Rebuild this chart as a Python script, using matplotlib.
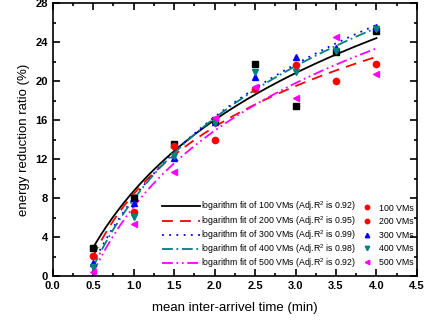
import numpy as np
import matplotlib
matplotlib.use("Agg")
import matplotlib.pyplot as plt
from matplotlib.lines import Line2D
from matplotlib.ticker import MultipleLocator

plt.rcParams['font.family'] = ['Liberation Sans', 'DejaVu Sans']
plt.rcParams['mathtext.fontset'] = 'custom'
plt.rcParams['mathtext.rm'] = 'Liberation Sans'

x = [0.5, 1.0, 1.5, 2.0, 2.5, 3.0, 3.5, 4.0]
vm100 = [2.9, 8.0, 13.5, 16.0, 21.8, 17.4, 23.0, 25.1]
vm200 = [2.1, 6.6, 13.3, 14.0, 19.2, 21.6, 20.0, 21.8]
vm300 = [1.3, 7.5, 12.1, 15.8, 20.4, 22.5, 23.4, 25.5]
vm400 = [0.9, 6.1, 12.3, 15.7, 20.9, 20.9, 23.1, 25.3]
vm500 = [0.4, 5.3, 10.7, 16.2, 19.4, 18.3, 24.5, 20.7]
series_names = ["100 VMs", "200 VMs", "300 VMs", "400 VMs", "500 VMs"]
r2 = ["0.92", "0.95", "0.99", "0.98", "0.92"]

# logarithm fit y = a + b*ln(x + c), coefficients
fit_a = [2.9, 7.17, 2.11, 3.34, 4.12]
fit_b = [14.3, 10.82, 15.84, 15.04, 13.29]
fit_c = [0.5, 0.12, 0.45, 0.35, 0.25]
fit_range = [0.5, 4.0]

colors = ["black", "#ff0000", "#0000ff", "#008080", "#ff00ff"]
markers = ["s", "o", "^", "v", "<"]
linestyles = ["-", (0, (6, 4)), (0, (1, 3)), (0, (6, 2, 1, 2)), (0, (6, 2, 1, 2, 1, 2))]

fig = plt.figure(figsize=(4.38, 3.23), dpi=100)
ax = fig.add_axes([0.12, 0.1455, 0.832, 0.845])

xs = np.linspace(fit_range[0], fit_range[1], 200)
line_handles = []
for a, b, c, col, ls, nm, r in zip(fit_a, fit_b, fit_c, colors, linestyles, series_names, r2):
    h, = ax.plot(xs, a + b * np.log(xs + c), color=col, linestyle=ls, lw=1.3)
    h.set_label("logarithm fit of %s (Adj.R$^2$ is %s)" % (nm, r))
    line_handles.append(h)

for ys, col, m in zip([vm100, vm200, vm300, vm400, vm500], colors, markers):
    ax.plot(x, ys, linestyle="none", marker=m, color=col, markersize=4.5)

# legend marker column (as shown in reference)
leg_colors = ["#ff0000", "#ff0000", "#0000ff", "#008080", "#ff00ff"]
leg_markers = ["o", "o", "^", "v", "<"]
marker_handles = [Line2D([], [], linestyle="none", marker=m, color=col, markersize=3.2, label=nm)
                  for m, col, nm in zip(leg_markers, leg_colors, series_names)]

leg1 = ax.legend(handles=line_handles, loc="lower left",
                 bbox_to_anchor=(0.3, 0.022), frameon=False, fontsize=6.3,
                 handlelength=4.3, handletextpad=0.15,
                 labelspacing=0.05, borderaxespad=0, borderpad=0)
ax.add_artist(leg1)
ax.legend(handles=marker_handles, loc="lower right",
          bbox_to_anchor=(0.992, 0.034), frameon=False, fontsize=6.3,
          handlelength=1.4, handletextpad=0.7,
          labelspacing=0.52, borderaxespad=0, borderpad=0)

ax.set_xlim(0, 4.5)
ax.set_ylim(0, 28)
ax.xaxis.set_minor_locator(MultipleLocator(0.25))
ax.yaxis.set_minor_locator(MultipleLocator(2))
ax.tick_params(which="both", direction="in", top=True, right=True, width=1.2)
ax.tick_params(which="major", length=5, labelsize=8)
ax.tick_params(which="minor", length=2.5)
ax.set_xticks(np.arange(0, 4.51, 0.5))
ax.set_xticklabels(["%.1f" % v for v in np.arange(0, 4.51, 0.5)], fontweight="bold")
ax.set_yticks(np.arange(0, 28.1, 4))
ax.set_yticklabels(["%d" % v for v in np.arange(0, 28.1, 4)], fontweight="bold")
for sp in ax.spines.values():
    sp.set_linewidth(1.2)

ax.set_xlabel("mean inter-arrivel time (min)", fontsize=9.5, labelpad=8)
ax.set_ylabel("energy reduction ratio (%)", fontsize=9.5, labelpad=4)

fig.savefig("out.png", dpi=100)
